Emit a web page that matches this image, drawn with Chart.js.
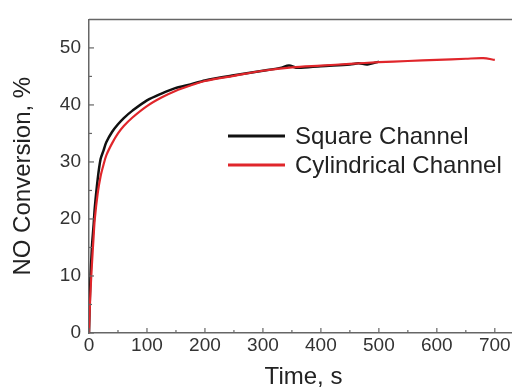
<!DOCTYPE html>
<html>
<head>
<meta charset="utf-8">
<script src="https://cdn.jsdelivr.net/npm/chart.js@4.4.0/dist/chart.umd.min.js"></script>
<style>
  html, body { margin: 0; padding: 0; background: #fff; overflow: hidden; }
  #wrap { width: 522px; height: 392px; }
</style>
</head>
<body>
<div id="wrap"><canvas id="convChart"></canvas></div>
<script>
// temps (s) et conversion NO (%)
const squareTime = [0, 2, 5, 8, 10, 15, 20, 25, 30, 40, 50, 60, 75, 100, 125, 150, 175, 200, 250, 300, 330, 345, 360, 400, 450, 465, 480, 500];
const squareConv = [0, 8, 15, 19, 22, 27, 30.5, 32, 33.5, 35.3, 36.6, 37.7, 39, 40.8, 42, 43, 43.6, 44.3, 45.2, 46, 46.5, 46.9, 46.5, 46.8, 47.1, 47.3, 47.1, 47.6];
const cylTime = [0, 2, 5, 8, 10, 15, 20, 25, 30, 40, 50, 60, 75, 100, 125, 150, 175, 200, 250, 300, 350, 400, 450, 500, 550, 600, 650, 680, 700];
const cylConv = [0, 6, 12, 17, 20, 24.5, 27.5, 29.5, 31.2, 33.3, 35, 36.3, 37.8, 39.8, 41.3, 42.5, 43.4, 44.2, 45.1, 46, 46.6, 46.9, 47.2, 47.5, 47.7, 47.9, 48.1, 48.2, 47.9];

const xTicks = [0, 100, 200, 300, 400, 500, 600, 700];
const yTicks = [0, 10, 20, 30, 40, 50];

const FRAME = '#666666';
const FONT = '"Liberation Sans", Arial, sans-serif';

function toPoints(xs, ys) {
    return xs.map((x, i) => ({ x: x, y: ys[i] }));
}

// ticks vers l'intérieur + cadre du haut + légende dans le graphe
const framePlugin = {
    id: 'framePlugin',
    afterDraw(chart) {
        const c = chart.ctx;
        const a = chart.chartArea;
        const xs = chart.scales.x, ys = chart.scales.y;
        c.save();
        c.strokeStyle = FRAME;
        c.lineWidth = 1.5;
        c.beginPath();
        c.moveTo(a.left, a.top);
        c.lineTo(a.right, a.top);
        c.stroke();
        c.lineWidth = 1.2;
        for (let v = 0; v <= 700; v += 50) {
            const px = xs.getPixelForValue(v);
            const len = v % 100 === 0 ? 5 : 3;
            c.beginPath();
            c.moveTo(px, a.bottom);
            c.lineTo(px, a.bottom - len);
            c.stroke();
        }
        for (let v = 0; v <= 50; v += 5) {
            const py = ys.getPixelForValue(v);
            const len = v % 10 === 0 ? 5 : 3;
            c.beginPath();
            c.moveTo(a.left, py);
            c.lineTo(a.left + len, py);
            c.stroke();
        }
        // légende
        c.font = '24px ' + FONT;
        c.textBaseline = 'middle';
        c.textAlign = 'left';
        chart.data.datasets.forEach((ds, i) => {
            const y = 136 + i * 29;
            c.strokeStyle = ds.borderColor;
            c.lineWidth = 3;
            c.beginPath();
            c.moveTo(228, y);
            c.lineTo(285, y);
            c.stroke();
            c.fillStyle = '#222';
            c.fillText(ds.label, 295, y + 1);
        });
        c.restore();
    }
};

new Chart(document.getElementById('convChart'), {
    type: 'line',
    data: {
        datasets: [
            {
                label: 'Square Channel',
                data: toPoints(squareTime, squareConv),
                borderColor: '#111111',
                borderWidth: 2.5,
                pointRadius: 0,
                tension: 0.3,
                order: 2
            },
            {
                label: 'Cylindrical Channel',
                data: toPoints(cylTime, cylConv),
                borderColor: '#e0262b',
                borderWidth: 2.2,
                pointRadius: 0,
                tension: 0.3,
                order: 1
            }
        ]
    },
    options: {
        responsive: true,
        maintainAspectRatio: false,
        animation: false,
        layout: { padding: { top: 10, right: 4, left: 0, bottom: 0 } },
        scales: {
            x: {
                type: 'linear',
                min: 0,
                max: 740,
                afterBuildTicks: (s) => { s.ticks = xTicks.map(v => ({ value: v })); },
                afterFit: (s) => { s.height = 59; },
                grid: { display: false, drawTicks: false },
                border: { display: true, color: FRAME, width: 1.5 },
                ticks: { color: '#333', font: { family: FONT, size: 19 }, padding: 1, maxRotation: 0 },
                title: { display: true, text: 'Time, s', color: '#222', font: { family: FONT, size: 24 }, padding: { top: 0, bottom: 0 } }
            },
            y: {
                min: 0,
                max: 55,
                afterBuildTicks: (s) => { s.ticks = yTicks.map(v => ({ value: v })); },
                afterFit: (s) => { s.width = 89; },
                grid: { display: false, drawTicks: false },
                border: { display: true, color: FRAME, width: 1.5 },
                ticks: { color: '#333', font: { family: FONT, size: 19 }, padding: 8 },
                title: { display: true, text: 'NO Conversion, %', color: '#222', font: { family: FONT, size: 24 }, padding: { top: 9, bottom: 0 } }
            }
        },
        plugins: {
            legend: { display: false },
            tooltip: { enabled: false }
        }
    },
    plugins: [framePlugin]
});
</script>
</body>
</html>
